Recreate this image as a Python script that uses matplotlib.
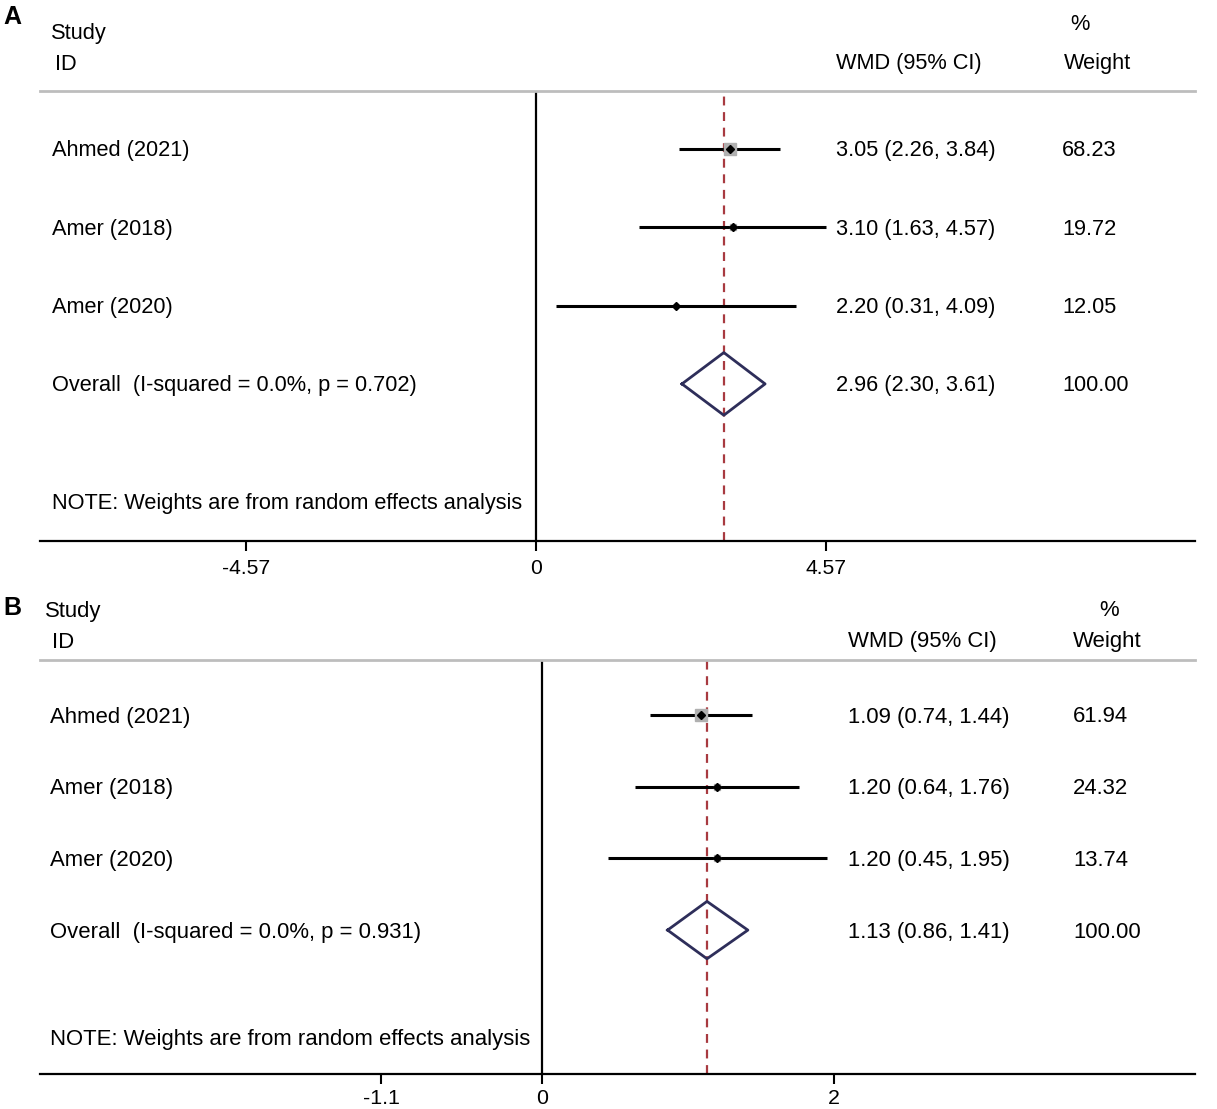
import matplotlib
matplotlib.use("Agg")
import matplotlib.pyplot as plt
from matplotlib.transforms import blended_transform_factory
import numpy as np

plt.rcParams['font.family'] = ['Liberation Sans', 'DejaVu Sans']

W, H = 1217, 1109

studies = ["Ahmed (2021)", "Amer (2018)", "Amer (2020)"]

# panel A
a_wmd = [3.05, 3.10, 2.20]
a_lo = [2.26, 1.63, 0.31]
a_hi = [3.84, 4.57, 4.09]
a_weight = [68.23, 19.72, 12.05]
a_overall = [2.96, 2.30, 3.61]
a_het = "Overall  (I-squared = 0.0%, p = 0.702)"
a_ticks = [-4.57, 0, 4.57]
a_ticklabels = ["-4.57", "0", "4.57"]

# panel B
b_wmd = [1.09, 1.20, 1.20]
b_lo = [0.74, 0.64, 0.45]
b_hi = [1.44, 1.76, 1.95]
b_weight = [61.94, 24.32, 13.74]
b_overall = [1.13, 0.86, 1.41]
b_het = "Overall  (I-squared = 0.0%, p = 0.931)"
b_ticks = [-1.1, 0, 2]
b_ticklabels = ["-1.1", "0", "2"]

note = "NOTE: Weights are from random effects analysis"

RED = "#a83a40"
NAVY = "#2e2e5a"
GREY = "#bdbdbd"


def fx(px):
    return px / W


def fy(py):
    return 1 - py / H


def panel(letter, top, bottom, zero_px, px_per_unit, row0, step, note_px,
          label_px, ci_px, wt_px, hdr, wmd, lo, hi, weight, overall, het,
          ticks, ticklabels, diam_h, FS, tpad):
    left_px, right_px = 40, 1195
    ax = fig.add_axes([fx(left_px), fy(bottom), fx(right_px - left_px),
                       (bottom - top) / H])
    ax.set_xlim((left_px - zero_px) / px_per_unit, (right_px - zero_px) / px_per_unit)
    h = bottom - top
    ax.set_ylim((h - (row0 - top)) / step, -(row0 - top) / step)
    for s in ['left', 'right']:
        ax.spines[s].set_visible(False)
    ax.spines['top'].set_color(GREY)
    ax.spines['top'].set_linewidth(2)
    ax.spines['bottom'].set_linewidth(1.6)
    ax.set_yticks([])
    ax.set_xticks(ticks)
    ax.set_xticklabels(ticklabels, fontsize=FS - 0.5)
    ax.tick_params(axis='x', length=7, width=1.5, pad=tpad)

    ax.axvline(0, color='black', lw=1.6, zorder=1)
    ax.axvline(overall[0], color=RED, lw=1.6, ls=(0, (4, 3)), zorder=2)

    rows = np.arange(len(wmd))
    ax.hlines(rows, lo, hi, color='black', lw=2.2, zorder=3)
    maxw = max(weight)
    for r, x, w in zip(rows, wmd, weight):
        ax.plot(x, r, marker='s', ms=8.0 * np.sqrt(w / maxw), color='#b0b0b0',
                mec='#b0b0b0', zorder=4)
        ax.plot(x, r, marker='D', ms=4.5, color='black', zorder=5)

    yo = len(wmd)
    dx = [overall[1], overall[0], overall[2], overall[0], overall[1]]
    dy = [yo, yo - diam_h, yo, yo + diam_h, yo]
    ax.plot(dx, dy, color=NAVY, lw=2, zorder=5)

    bt = blended_transform_factory(ax.transAxes, ax.transData)
    off = 2.0 / step  # small downward nudge for text centring
    lab_x = (label_px - left_px) / (right_px - left_px)
    ci_x = (ci_px - left_px) / (right_px - left_px)
    wt_x = (wt_px - left_px) / (right_px - left_px)
    labels = studies + [het]
    vals = list(zip(wmd, lo, hi, weight)) + [(overall[0], overall[1], overall[2], 100.0)]
    for r, (lab, (m, l, u, w)) in enumerate(zip(labels, vals)):
        ax.text(lab_x, r + off, lab, transform=bt, fontsize=FS, va='center', ha='left')
        ax.text(ci_x, r + off, "%.2f (%.2f, %.2f)" % (m, l, u), transform=bt,
                fontsize=FS, va='center', ha='left')
        ax.text(wt_x, r + off, "%.2f" % w, transform=bt, fontsize=FS,
                va='center', ha='left')
    ax.text(lab_x, (note_px - row0) / step + off, note,
            transform=bt, fontsize=FS, va='center', ha='left')

    # headers
    (study_xy, id_xy, pct_xy, wt_xy, wmd_xy, letter_xy) = hdr
    fig.text(fx(letter_xy[0]), fy(letter_xy[1]), letter, fontsize=18,
             fontweight='bold', va='center', ha='left')
    fig.text(fx(study_xy[0]), fy(study_xy[1] + 2), "Study", fontsize=FS, va='center')
    fig.text(fx(id_xy[0]), fy(id_xy[1] + 2), "ID", fontsize=FS, va='center')
    fig.text(fx(pct_xy[0]), fy(pct_xy[1] + 2), "%", fontsize=FS, va='center')
    fig.text(fx(wt_xy[0]), fy(wt_xy[1] + 2), "Weight", fontsize=FS, va='center')
    fig.text(fx(wmd_xy[0]), fy(wmd_xy[1] + 2), "WMD (95% CI)", fontsize=FS, va='center')
    return ax


fig = plt.figure(figsize=(W / 100, H / 100), dpi=100)

panel("A", 91, 541, 536, 290 / 4.57, 149, 78.3, 501, 52, 836, 1062,
      ((51, 31), (55, 62), (1070, 22), (1064, 62), (836, 62), (3, 17)),
      a_wmd, a_lo, a_hi, a_weight, a_overall, a_het, a_ticks, a_ticklabels, 0.40,
      15.7, 6)

panel("B", 660, 1074, 542, 146, 715, 71.7, 1037, 50, 848, 1073,
      ((45, 609), (52, 640), (1099, 609), (1073, 640), (848, 640), (3, 608)),
      b_wmd, b_lo, b_hi, b_weight, b_overall, b_het, b_ticks, b_ticklabels, 0.40,
      15.9, 4)

fig.savefig("out.png", dpi=100)
